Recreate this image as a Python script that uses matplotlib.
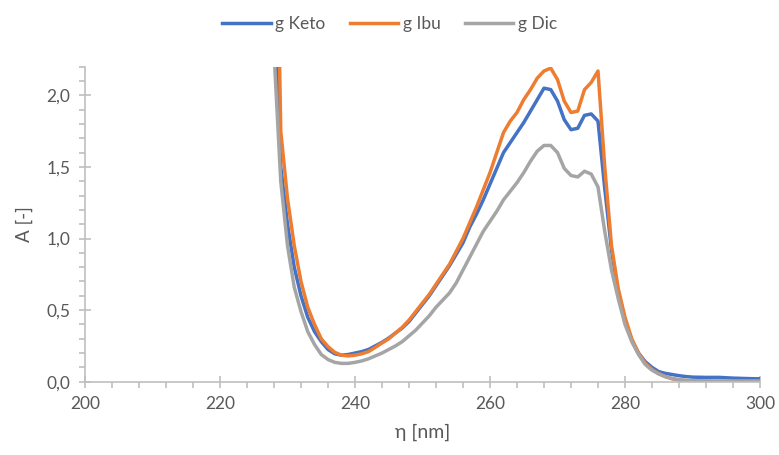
import numpy as np
import matplotlib
matplotlib.use("Agg")
import matplotlib.pyplot as plt
from matplotlib.ticker import MultipleLocator, FuncFormatter

# Absorbance spectra (nm -> A)
wl = [228, 229, 230, 231, 232, 233, 234, 235, 236, 237, 238, 239,
      240, 241, 242, 243, 244, 245, 246, 247, 248, 249, 250, 251,
      252, 253, 254, 255, 256, 257, 258, 259, 260, 261, 262, 263,
      264, 265, 266, 267, 268, 269, 270, 271, 272, 273, 274, 275,
      276, 277, 278, 279, 280, 281, 282, 283, 284, 285, 286, 287,
      288, 289, 290, 292, 294, 296, 298, 300]

keto = [2.70, 1.50, 1.10, 0.80, 0.60, 0.45, 0.35, 0.28, 0.225, 0.195, 0.185, 0.19,
        0.20, 0.21, 0.225, 0.25, 0.275, 0.305, 0.34, 0.375, 0.42, 0.48, 0.54, 0.60,
        0.67, 0.74, 0.81, 0.89, 0.97, 1.08, 1.17, 1.27, 1.38, 1.49, 1.60, 1.67,
        1.74, 1.81, 1.89, 1.97, 2.05, 2.04, 1.96, 1.83, 1.76, 1.77, 1.86, 1.87,
        1.82, 1.35, 0.92, 0.62, 0.42, 0.29, 0.20, 0.14, 0.10, 0.07, 0.058, 0.05,
        0.042, 0.036, 0.032, 0.030, 0.030, 0.025, 0.022, 0.020]

ibu = [4.50, 1.75, 1.28, 0.95, 0.70, 0.52, 0.40, 0.30, 0.245, 0.205, 0.185, 0.18,
       0.185, 0.195, 0.21, 0.24, 0.27, 0.30, 0.34, 0.38, 0.43, 0.49, 0.55, 0.61,
       0.68, 0.75, 0.82, 0.91, 1.00, 1.11, 1.22, 1.34, 1.46, 1.60, 1.74, 1.82,
       1.88, 1.97, 2.04, 2.12, 2.17, 2.19, 2.11, 1.96, 1.88, 1.89, 2.04, 2.09,
       2.17, 1.50, 0.95, 0.65, 0.45, 0.30, 0.20, 0.13, 0.085, 0.055, 0.035, 0.02,
       0.012, 0.007, 0.004, 0.002, 0.001, 0.001, 0.001, 0.001]

dic = [2.30, 1.40, 0.95, 0.66, 0.49, 0.35, 0.26, 0.19, 0.155, 0.135, 0.128, 0.128,
       0.135, 0.145, 0.16, 0.18, 0.20, 0.225, 0.25, 0.28, 0.32, 0.36, 0.41, 0.46,
       0.52, 0.57, 0.62, 0.69, 0.78, 0.87, 0.96, 1.05, 1.12, 1.19, 1.27, 1.33,
       1.39, 1.46, 1.54, 1.61, 1.65, 1.65, 1.60, 1.49, 1.44, 1.43, 1.47, 1.45,
       1.36, 1.05, 0.78, 0.58, 0.40, 0.28, 0.19, 0.12, 0.08, 0.055, 0.035, 0.022,
       0.014, 0.010, 0.007, 0.006, 0.005, 0.005, 0.005, 0.005]

labels = ["g Keto", "g Ibu", "g Dic"]
colors = ["#4472C4", "#ED7D31", "#A5A5A5"]

plt.rcParams["font.family"] = ["Lato", "DejaVu Sans"]
axis_col = "#BFBFBF"
text_col = "#595959"

fig = plt.figure(figsize=(7.79, 4.55), dpi=100)
ax = fig.add_axes([85 / 779, 73.3 / 455, 675 / 779, 315 / 455])

for y, lab, c in zip([keto, ibu, dic], labels, colors):
    ax.plot(wl, y, color=c, lw=2.5, label=lab, solid_joinstyle="round")

ax.set_xlim(200, 300)
ax.set_ylim(0, 2.2)
ax.xaxis.set_major_locator(MultipleLocator(20))
ax.xaxis.set_minor_locator(MultipleLocator(4))
ax.yaxis.set_major_locator(MultipleLocator(0.5))
ax.yaxis.set_minor_locator(MultipleLocator(0.1))
ax.yaxis.set_major_formatter(FuncFormatter(lambda v, p: f"{v:.1f}".replace(".", ",")))

for s in ["top", "right"]:
    ax.spines[s].set_visible(False)
for s in ["left", "bottom"]:
    ax.spines[s].set_color(axis_col)
    ax.spines[s].set_linewidth(1.2)

ax.tick_params(which="major", direction="inout", length=9, width=1.2,
               color=axis_col, labelcolor=text_col, labelsize=12.5, pad=6)
ax.tick_params(which="minor", direction="out", length=4, width=1.2, color=axis_col)

ax.set_xlabel("η [nm]", color=text_col, fontsize=14, labelpad=8)
ax.set_ylabel("A [-]", color=text_col, fontsize=13.5, labelpad=10)

fig.legend(loc="upper center", bbox_to_anchor=(0.5, 1.0), ncol=3, frameon=False,
           fontsize=12.5, labelcolor=text_col, handlelength=2.8, handletextpad=0.25,
           columnspacing=1.4)

fig.savefig("out.png", dpi=100)
